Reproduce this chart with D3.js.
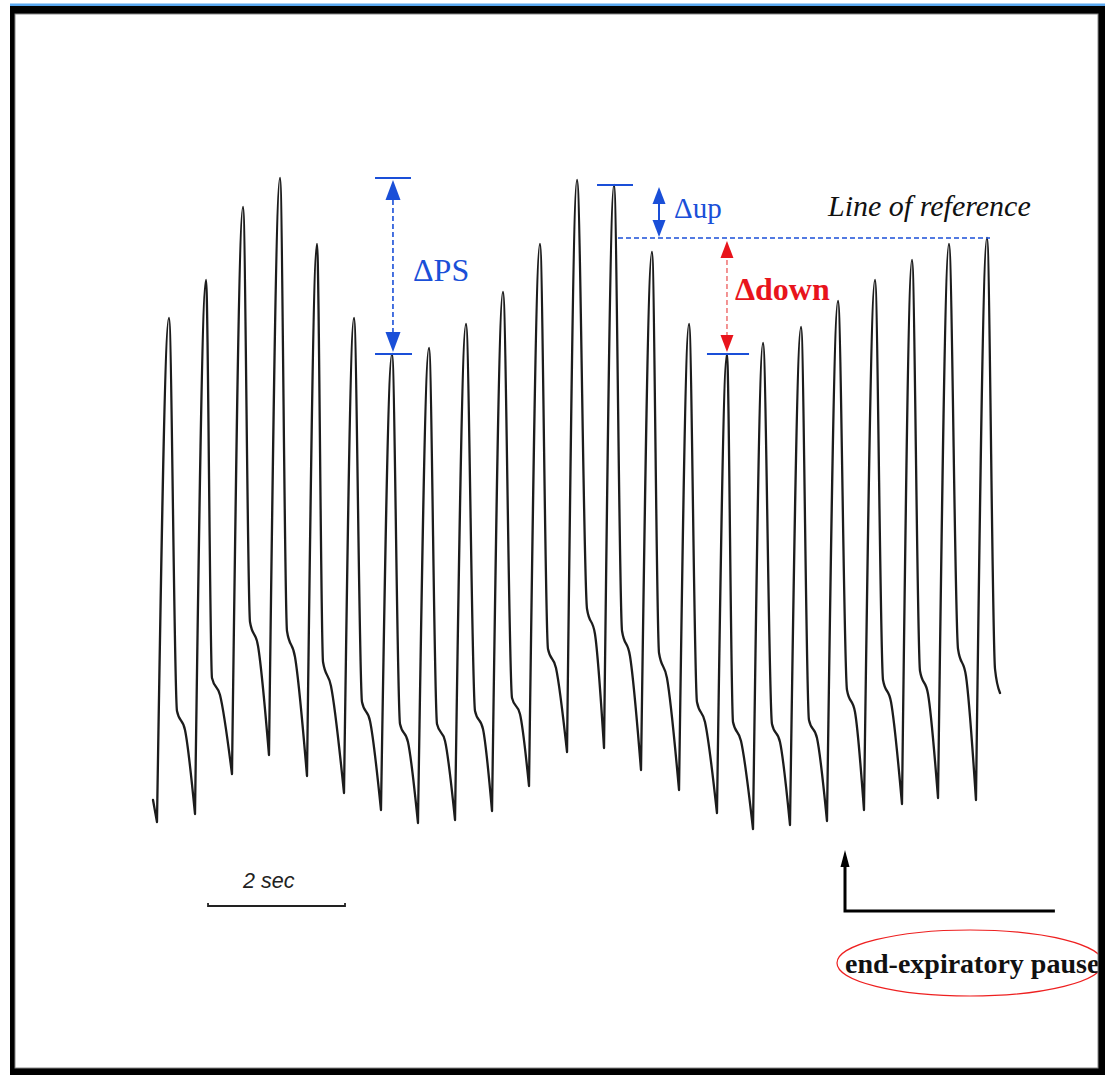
<!DOCTYPE html>
<html>
<head>
<meta charset="utf-8">
<script src="https://cdn.jsdelivr.net/npm/d3@7"></script>
<style>
  html, body { margin: 0; padding: 0; background: #fff; }
  svg { display: block; }
</style>
</head>
<body>
<svg id="chart" width="1105" height="1075"></svg>
<script>
// Arterial pressure trace, time in seconds, pressure in mmHg
const startPoint = [0.044, 77.0];
const endPoint   = [12.409, 87.7];

// trough before each beat
const troughT = [0.102, 0.657, 1.197, 1.737, 2.292, 2.832, 3.372, 3.912, 4.453, 4.993, 5.533, 6.088,
                 6.628, 7.168, 7.723, 8.277, 8.803, 9.343, 9.883, 10.423, 10.978, 11.504, 12.058];
const troughP = [74.8, 75.6, 79.6, 81.5, 79.4, 77.7, 76.0, 74.7, 75.0, 75.9, 78.4, 81.8,
                 82.2, 80.0, 78.0, 75.7, 74.1, 74.5, 74.9, 76.0, 76.6, 77.2, 77.0];

// systolic peaks
const peakT = [0.277, 0.818, 1.358, 1.898, 2.438, 2.978, 3.533, 4.073, 4.613, 5.153, 5.693, 6.234,
               6.774, 7.328, 7.869, 8.423, 8.949, 9.504, 10.044, 10.584, 11.124, 11.664, 12.219];
const peakP = [125.2, 129.0, 136.3, 139.2, 132.6, 125.2, 121.6, 122.2, 124.6, 127.8, 132.6, 139.0,
               138.5, 131.8, 124.6, 121.6, 122.7, 124.3, 126.9, 129.0, 131.0, 132.6, 133.2];

// dicrotic notch
const notchT = [0.394, 0.905, 1.460, 2.000, 2.526, 3.095, 3.650, 4.190, 4.745, 5.285, 5.810, 6.380,
                6.891, 7.431, 7.985, 8.511, 9.080, 9.620, 10.175, 10.701, 11.241, 11.796, 12.336];
const notchP = [85.9, 89.2, 94.8, 93.9, 90.8, 86.8, 84.6, 84.6, 85.9, 87.2, 92.1, 96.1,
                93.9, 91.7, 86.8, 84.8, 84.6, 85.0, 88.0, 89.0, 89.9, 92.1, 90.1];

// end of the slow diastolic run-off, before the steep fall to the trough
const kneeT = [0.511, 1.022, 1.577, 2.117, 2.642, 3.212, 3.766, 4.307, 4.861, 5.401, 5.927, 6.496,
               7.007, 7.547, 8.102, 8.628, 9.197, 9.737, 10.292, 10.818, 11.358, 11.912];
const kneeP = [84.0, 87.5, 92.4, 91.3, 88.4, 84.9, 82.8, 82.9, 84.1, 85.6, 90.2, 93.6,
               91.4, 89.2, 84.8, 82.9, 82.8, 83.2, 85.8, 86.8, 87.6, 89.4];

const svg = d3.select("#chart");

let x = d3.scaleLinear().domain([0, 12.5]).range([150, 150 + 12.5 * 68.5]);
let y = d3.scaleLinear().domain([74, 140]).range([830, 170]);

// one piece per beat, trough to trough, so the troughs stay sharp
let pieces = [[startPoint, [troughT[0], troughP[0]]]];
peakT.forEach((t, i) => {
    let seg = [[troughT[i], troughP[i]], [peakT[i], peakP[i]], [notchT[i], notchP[i]]];
    if (i < kneeT.length) seg.push([kneeT[i], kneeP[i]]);
    seg.push(i + 1 < troughT.length ? [troughT[i + 1], troughP[i + 1]] : endPoint);
    pieces.push(seg);
});

let line = d3.line().x(d => x(d[0])).y(d => y(d[1])).curve(d3.curveMonotoneX);

svg.append("path")
   .attr("fill", "none")
   .attr("stroke", "#1c1c1c")
   .attr("stroke-width", 2.3)
   .attr("stroke-linejoin", "round")
   .attr("stroke-linecap", "round")
   .attr("d", pieces.map(p => line(p)).join(""));

const BLUE = "#1a4fd8", RED = "#e8141c";
const SERIF = "Liberation Serif, Times New Roman, serif";

function hbar(t0, t1, p, color) {
    svg.append("line")
       .attr("x1", x(t0)).attr("x2", x(t1))
       .attr("y1", y(p)).attr("y2", y(p))
       .attr("stroke", color).attr("stroke-width", 2);
}
function tri(cx, tipY, dir, w, h, color) {
    // dir -1 = pointing up, +1 = pointing down
    let base = tipY - dir * h;
    svg.append("path")
       .attr("d", `M${cx},${tipY} L${cx - w / 2},${base} L${cx + w / 2},${base} Z`)
       .attr("fill", color);
}

// ΔPS
let psX = x(3.547);
hbar(3.285, 3.81, peakP[3], BLUE);
hbar(3.285, 3.825, peakP[6], BLUE);
svg.append("line")
   .attr("x1", psX).attr("x2", psX)
   .attr("y1", y(peakP[3]) + 14).attr("y2", y(peakP[6]) - 14)
   .attr("stroke", BLUE).attr("stroke-width", 1.6)
   .attr("stroke-dasharray", "5,3");
tri(psX, y(peakP[3]) + 2, -1, 15, 20, BLUE);
tri(psX, y(peakP[6]) - 2, 1, 15, 20, BLUE);
svg.append("text")
   .attr("x", 413).attr("y", 281)
   .attr("font-family", SERIF)
   .attr("font-size", 32)
   .attr("fill", BLUE)
   .text("ΔPS");

// Line of reference
let refP = peakP[22];
svg.append("line")
   .attr("x1", x(6.832)).attr("x2", x(12.263))
   .attr("y1", y(refP)).attr("y2", y(refP))
   .attr("stroke", BLUE).attr("stroke-width", 1.6)
   .attr("stroke-dasharray", "5,3");
svg.append("text")
   .attr("x", 828).attr("y", 216)
   .attr("font-family", SERIF)
   .attr("font-style", "italic")
   .attr("font-size", 30)
   .attr("fill", "#111")
   .text("Line of reference");

// Δup
let upX = x(7.431);
hbar(6.526, 7.051, peakP[12], BLUE);
svg.append("line")
   .attr("x1", upX).attr("x2", upX)
   .attr("y1", y(peakP[12]) + 10).attr("y2", y(refP) - 10)
   .attr("stroke", BLUE).attr("stroke-width", 2);
tri(upX, y(peakP[12]) + 2, -1, 13, 17, BLUE);
tri(upX, y(refP) - 1, 1, 13, 17, BLUE);
svg.append("text")
   .attr("x", 674).attr("y", 218)
   .attr("font-family", SERIF)
   .attr("font-size", 29)
   .attr("fill", BLUE)
   .text("Δup");

// Δdown
let dnX = x(8.423);
hbar(8.131, 8.745, peakP[15], BLUE);
svg.append("line")
   .attr("x1", dnX).attr("x2", dnX)
   .attr("y1", y(refP) + 14).attr("y2", y(peakP[15]) - 12)
   .attr("stroke", "#f07a7a").attr("stroke-width", 1.6)
   .attr("stroke-dasharray", "5,3");
tri(dnX, y(refP) + 3, -1, 13, 17, RED);
tri(dnX, y(peakP[15]) - 2, 1, 13, 17, RED);
svg.append("text")
   .attr("x", 735).attr("y", 300)
   .attr("font-family", SERIF)
   .attr("font-weight", "bold")
   .attr("font-size", 32)
   .attr("fill", RED)
   .text("Δdown");

// 2 sec scale bar
let sbY = y(66.4);
svg.append("path")
   .attr("d", `M${x(0.847)},${sbY - 3} V${sbY} H${x(2.847)} V${sbY - 3}`)
   .attr("fill", "none").attr("stroke", "#222").attr("stroke-width", 1.8);
svg.append("text")
   .attr("x", 243).attr("y", 888)
   .attr("font-family", "Liberation Sans, Arial, sans-serif")
   .attr("font-style", "italic")
   .attr("font-size", 21.5)
   .attr("fill", "#222")
   .text("2 sec");

// end-expiratory pause marker
let eX = x(10.146), eY = y(65.9);
svg.append("path")
   .attr("d", `M${eX},${y(71.0)} V${eY} H${x(13.21)}`)
   .attr("fill", "none").attr("stroke", "#000").attr("stroke-width", 3);
tri(eX, y(72.0), -1, 9, 17, "#000");

svg.append("ellipse")
   .attr("cx", 970).attr("cy", 963).attr("rx", 133).attr("ry", 33)
   .attr("fill", "none").attr("stroke", "#ee2020").attr("stroke-width", 1.2);
svg.append("text")
   .attr("x", 845).attr("y", 973)
   .attr("font-family", SERIF)
   .attr("font-weight", "bold")
   .attr("font-size", 28)
   .attr("fill", "#111")
   .text("end-expiratory pause");

// frame
svg.append("rect").attr("x", 10).attr("y", 3.5).attr("width", 1095).attr("height", 2.5).attr("fill", "#5aa8f0");
svg.append("rect").attr("x", 10).attr("y", 6).attr("width", 1095).attr("height", 8).attr("fill", "#000");
svg.append("rect").attr("x", 10).attr("y", 6).attr("width", 5).attr("height", 1069).attr("fill", "#000");
svg.append("rect").attr("x", 1098).attr("y", 6).attr("width", 7).attr("height", 1069).attr("fill", "#000");
svg.append("rect").attr("x", 10).attr("y", 1068).attr("width", 1095).attr("height", 7).attr("fill", "#000");
svg.append("rect").attr("x", 15).attr("y", 14).attr("width", 1083).attr("height", 1054)
   .attr("fill", "none").attr("stroke", "#888").attr("stroke-width", 1);
</script>
</body>
</html>
